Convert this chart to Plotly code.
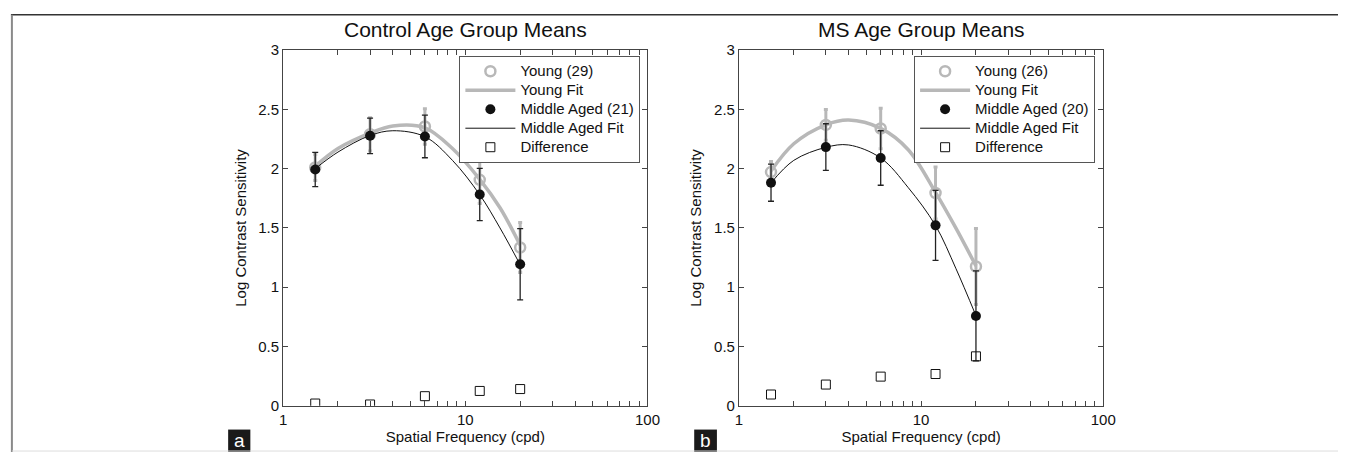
import plotly.graph_objects as go

# ---------------- data ----------------
freq = [1.5, 3, 6, 12, 20]
fit_freq = [1.5, 2, 3, 4, 6, 8.5, 12, 15.5, 20]

# Control panel (a)
ctrl_young = [2.01, 2.29, 2.356, 1.906, 1.335]
ctrl_young_err = [0.11, 0.14, 0.15, 0.20, 0.21]
ctrl_mid = [1.993, 2.277, 2.272, 1.782, 1.194]
ctrl_mid_err = [0.145, 0.15, 0.18, 0.22, 0.30]
ctrl_diff = [0.019, 0.011, 0.081, 0.125, 0.141]
ctrl_young_fit = [2.02, 2.17, 2.30, 2.36, 2.345, 2.17, 1.91, 1.67, 1.355]
ctrl_mid_fit = [2.00, 2.14, 2.28, 2.32, 2.27, 2.07, 1.78, 1.50, 1.19]

# MS panel (b)
ms_young = [1.971, 2.369, 2.339, 1.795, 1.175]
ms_young_err = [0.09, 0.13, 0.17, 0.22, 0.32]
ms_mid = [1.882, 2.182, 2.09, 1.522, 0.758]
ms_mid_err = [0.157, 0.197, 0.23, 0.295, 0.38]
ms_diff = [0.095, 0.179, 0.246, 0.268, 0.417]
ms_young_fit = [1.98, 2.21, 2.37, 2.41, 2.34, 2.16, 1.80, 1.50, 1.18]
ms_mid_fit = [1.88, 2.07, 2.18, 2.20, 2.09, 1.84, 1.52, 1.16, 0.76]

titles = ["Control Age Group Means", "MS Age Group Means"]
young_names = ["Young (29)", "Young (26)"]
mid_names = ["Middle Aged (21)", "Middle Aged (20)"]
fit_names = ["Young Fit", "Middle Aged Fit"]
diff_name = "Difference"
panel_labels = ["a", "b"]
x_tickvals = [1, 2, 3, 4, 5, 6, 7, 8, 9, 10, 20, 30, 40, 50, 60, 70, 80, 90, 100]
x_ticktext = ["1"] + [""] * 8 + ["10"] + [""] * 8 + ["100"]
y_tickvals = [0, 0.5, 1, 1.5, 2, 2.5, 3]
y_ticktext = ["0", "0.5", "1", "1.5", "2", "2.5", "3"]

# ---------------- style ----------------
W, H = 1351, 460
FONT = "Arial, Liberation Sans, Helvetica, sans-serif"
GRAY = "#b8b8b8"
BLACK = "#111111"


def px_x(p):
    return p / W


def px_y(p):
    return 1 - p / H


def leg(name):
    # legend text drawn at 15px while legend row spacing follows the smaller base font
    return '<span style="font-size:15px">' + name + "</span>"


domains_x = [[px_x(282.7), px_x(651.7)], [px_x(744.3), px_x(1113.3)]]
domain_y = [px_y(412), px_y(42.7)]
legend_right = [px_x(644.5), px_x(1105)]

panels = [
    (ctrl_young, ctrl_young_err, ctrl_young_fit, ctrl_mid, ctrl_mid_err, ctrl_mid_fit, ctrl_diff),
    (ms_young, ms_young_err, ms_young_fit, ms_mid, ms_mid_err, ms_mid_fit, ms_diff),
]

fig = go.Figure()
for i, (yv, ye, yf, mv, me, mf, dv) in enumerate(panels):
    xa = "x" if i == 0 else "x2"
    ya = "y" if i == 0 else "y2"
    lg = "legend" if i == 0 else "legend2"
    fig.add_trace(go.Scatter(
        x=freq, y=yv, mode="markers", name=leg(young_names[i]), xaxis=xa, yaxis=ya, legend=lg,
        marker=dict(symbol="circle-open", size=10, color=GRAY, line=dict(width=2.5, color=GRAY)),
        error_y=dict(type="data", array=ye, color=GRAY, thickness=3, width=2),
    ))
    fig.add_trace(go.Scatter(
        x=fit_freq, y=yf, mode="lines", name=leg(fit_names[0]), xaxis=xa, yaxis=ya, legend=lg,
        line=dict(color=GRAY, width=3.5, shape="spline", smoothing=1.0),
    ))
    fig.add_trace(go.Scatter(
        x=freq, y=mv, mode="markers", name=leg(mid_names[i]), xaxis=xa, yaxis=ya, legend=lg,
        marker=dict(symbol="circle", size=10, color=BLACK),
        error_y=dict(type="data", array=me, color="#222222", thickness=1.3, width=3),
    ))
    fig.add_trace(go.Scatter(
        x=fit_freq, y=mf, mode="lines", name=leg(fit_names[1]), xaxis=xa, yaxis=ya, legend=lg,
        line=dict(color=BLACK, width=1, shape="spline", smoothing=1.0),
    ))
    fig.add_trace(go.Scatter(
        x=freq, y=dv, mode="markers", name=leg(diff_name), xaxis=xa, yaxis=ya, legend=lg,
        marker=dict(symbol="square-open", size=9, color=BLACK, line=dict(width=1, color=BLACK)),
    ))

axis_common = dict(
    showgrid=False, zeroline=False, showline=True, linecolor="#444444", linewidth=1,
    mirror="ticks", ticks="inside", ticklen=5, tickcolor="#444444",
    tickfont=dict(family=FONT, size=15, color="#111111"),
)
xaxis_cfg = dict(type="log", range=[0, 2], tickvals=x_tickvals, ticktext=x_ticktext,
                 title=dict(text="Spatial Frequency (cpd)", font=dict(family=FONT, size=15, color="#111111"), standoff=4),
                 **axis_common)
yaxis_cfg = dict(range=[0, 3], tickvals=y_tickvals, ticktext=y_ticktext,
                 title=dict(text="Log Contrast Sensitivity", font=dict(family=FONT, size=15, color="#111111"), standoff=8),
                 **axis_common)

legend_cfg = dict(
    xanchor="right", yanchor="top", y=px_y(48.5),
    bgcolor="white", bordercolor="#555555", borderwidth=1,
    font=dict(family=FONT, size=12, color="#111111"),
    itemwidth=50, tracegroupgap=0, traceorder="normal",
)

annotations = []
shapes = []
for i in range(2):
    cx = (domains_x[i][0] + domains_x[i][1]) / 2
    annotations.append(dict(text=titles[i], x=cx, y=px_y(21.7), xref="paper", yref="paper",
                            showarrow=False, xanchor="center", yanchor="middle",
                            font=dict(family=FONT, size=21, color="#111111")))
box_x = [(227, 249.5), (699, 722)]
for i in range(2):
    shapes.append(dict(type="rect", xref="paper", yref="paper",
                       x0=px_x(box_x[i][0]), x1=px_x(box_x[i][1]), y0=0, y1=px_y(436.7),
                       fillcolor="#1a1a1a", line=dict(width=0)))
    annotations.append(dict(text=panel_labels[i], x=px_x((box_x[i][0] + box_x[i][1]) / 2), y=px_y(448),
                            xref="paper", yref="paper", showarrow=False, xanchor="center", yanchor="middle",
                            font=dict(family=FONT, size=19, color="white")))
# outer frame lines
shapes.append(dict(type="line", xref="paper", yref="paper", x0=px_x(7), x1=1, y0=px_y(6), y1=px_y(6),
                   line=dict(color="#333333", width=1.5)))
shapes.append(dict(type="line", xref="paper", yref="paper", x0=px_x(8), x1=px_x(8), y0=px_y(6), y1=0,
                   line=dict(color="#8a8a8a", width=2)))
shapes.append(dict(type="line", xref="paper", yref="paper", x0=px_x(8), x1=1, y0=px_y(459), y1=px_y(459),
                   line=dict(color="#dddddd", width=1)))

fig.update_layout(
    autosize=True, margin=dict(l=0, r=0, t=0, b=0, pad=0),
    paper_bgcolor="white", plot_bgcolor="white",
    font=dict(family=FONT, size=15, color="#111111"),
    xaxis=dict(domain=domains_x[0], anchor="y", **xaxis_cfg),
    yaxis=dict(domain=domain_y, anchor="x", **yaxis_cfg),
    xaxis2=dict(domain=domains_x[1], anchor="y2", **xaxis_cfg),
    yaxis2=dict(domain=domain_y, anchor="x2", **yaxis_cfg),
    legend=dict(x=legend_right[0], **legend_cfg),
    legend2=dict(x=legend_right[1], **legend_cfg),
    annotations=annotations, shapes=shapes, showlegend=True,
)

post_js = (
    "var s=document.createElement('style');"
    "s.innerHTML='html,body{margin:0 !important;padding:0 !important;overflow:hidden !important;"
    "width:100%;height:100%;}';"
    "document.head.appendChild(s);"
    "var g=document.getElementById('{plot_id}');"
    "g.style.position='fixed';g.style.left='0';g.style.top='0';"
    "g.style.width='100vw';g.style.height='100vh';"
    "Plotly.Plots.resize(g);"
)

fig.write_html("out.html", post_script=post_js, default_width="100vw", default_height="100vh",
               config={"displayModeBar": False, "responsive": True})
